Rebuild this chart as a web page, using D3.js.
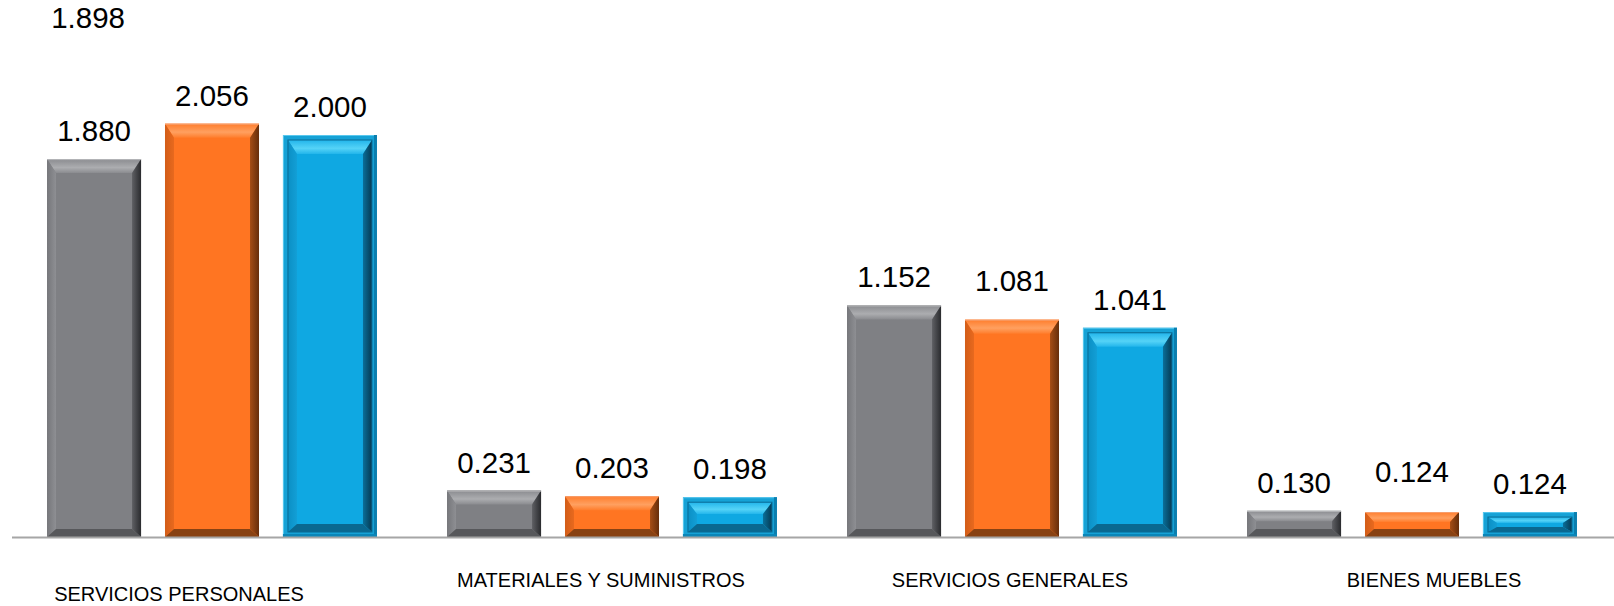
<!DOCTYPE html>
<html>
<head>
<meta charset="utf-8">
<script src="https://cdn.jsdelivr.net/npm/d3@7"></script>
<style>
    body { margin: 0; background: #fff; }
    svg { display: block; }
    .value { font-family: "Liberation Sans", Arial, sans-serif; font-size: 29.5px; fill: #000; text-anchor: middle; }
    .cat { font-family: "Liberation Sans", Arial, sans-serif; font-size: 20px; fill: #000; text-anchor: middle; }
</style>
</head>
<body>
<script>
var categories = ['SERVICIOS PERSONALES', 'MATERIALES Y SUMINISTROS', 'SERVICIOS GENERALES', 'BIENES MUEBLES'];
var series = ['serie1', 'serie2', 'serie3'];
var serie1 = [1.880, 0.231, 1.152, 0.130];
var serie2 = [2.056, 0.203, 1.081, 0.124];
var serie3 = [2.000, 0.198, 1.041, 0.124];
var strayLabel = '1.898';

var width = 1614,
    height = 606,
    baseline = 537;

var svg = d3.select('body')
    .append('svg')
    .attr('width', width)
    .attr('height', height);

var x0 = d3.scaleBand()
    .domain(categories)
    .range([12, 1612]);

var x1 = d3.scaleBand()
    .domain(series)
    .range([0, x0.bandwidth()])
    .paddingInner(0.203)
    .paddingOuter(0.297);

var y = d3.scaleLinear()
    .domain([0, 2.5])
    .range([baseline, baseline - 2.5 * 201]);

// colours for each bevel face: face, top (outer, inner), left, right (inner, outer), bottom
var palette = {
    serie1: {face: '#7f8084', top0: '#8a8b8f', top1: '#acadb0', left0: '#8e8f93', left1: '#76777b', right0: '#5f6064', right1: '#2a2b2e', bottom: '#57585b', rim: '#b8b9bb'},
    serie2: {face: '#ff7522', top0: '#ff7d2c', top1: '#ffa060', left0: '#e8691e', left1: '#d25d18', right0: '#a54d15', right1: '#662e0b', bottom: '#884213', rim: '#f7a070'},
    serie3: {face: '#0fa8e2', top0: '#22b5eb', top1: '#55d3f7', left0: '#139fd6', left1: '#0b8fc4', right0: '#0a6f99', right1: '#053a53', bottom: '#0a6890', rim: '#59c8ee'}
};

var defs = svg.append('defs');
series.forEach(function(s) {
    var c = palette[s];
    var gt = defs.append('linearGradient').attr('id', 'top-' + s)
        .attr('x1', 0).attr('y1', 0).attr('x2', 0).attr('y2', 1);
    gt.append('stop').attr('offset', '0%').attr('stop-color', c.top0);
    gt.append('stop').attr('offset', '60%').attr('stop-color', c.top1);
    gt.append('stop').attr('offset', '100%').attr('stop-color', c.top0);
    var gl = defs.append('linearGradient').attr('id', 'left-' + s)
        .attr('x1', 0).attr('y1', 0).attr('x2', 1).attr('y2', 0);
    gl.append('stop').attr('offset', '0%').attr('stop-color', c.left1);
    gl.append('stop').attr('offset', '100%').attr('stop-color', c.left0);
    var gr = defs.append('linearGradient').attr('id', 'right-' + s)
        .attr('x1', 0).attr('y1', 0).attr('x2', 1).attr('y2', 0);
    gr.append('stop').attr('offset', '0%').attr('stop-color', c.right0);
    gr.append('stop').attr('offset', '100%').attr('stop-color', c.right1);
});

var rows = categories.map(function(cat, i) {
    return {cat: cat, values: [serie1[i], serie2[i], serie3[i]].map(function(v, j) {
        return {cat: cat, key: series[j], value: v, ci: i};
    })};
});

// a few data labels were dragged up by hand in the original
var labelLift = {'serie2-2': 11, 'serie2-3': 12};
var catNudge = [[-33, 64], [-11, 50], [-2, 50], [22, 50]];

function pts(a) {
    return a.map(function(p) { return p.join(','); }).join(' ');
}

function bevelBar(g, x, yy, w, h, s, c) {
    var t = Math.min(14, h * 0.4),
        b = Math.min(8, h * 0.33),
        sd = Math.min(9, w / 2);
    g.append('rect').attr('x', x).attr('y', yy).attr('width', w).attr('height', h).attr('fill', c.face);
    g.append('polygon').attr('points', pts([[x, yy], [x + w, yy], [x + w - sd, yy + t], [x + sd, yy + t]]))
        .attr('fill', 'url(#top-' + s + ')');
    g.append('polygon').attr('points', pts([[x, yy], [x + sd, yy + t], [x + sd, yy + h - b], [x, yy + h]]))
        .attr('fill', 'url(#left-' + s + ')');
    g.append('polygon').attr('points', pts([[x + w, yy], [x + w, yy + h], [x + w - sd, yy + h - b], [x + w - sd, yy + t]]))
        .attr('fill', 'url(#right-' + s + ')');
    g.append('polygon').attr('points', pts([[x, yy + h], [x + sd, yy + h - b], [x + w - sd, yy + h - b], [x + w, yy + h]]))
        .attr('fill', c.bottom);
}

var groups = svg.append('g')
    .attr('class', 'bars')
    .selectAll('g')
    .data(rows).enter()
    .append('g')
    .attr('transform', d => 'translate(' + x0(d.cat) + ',0)');

groups.selectAll('g.bar')
    .data(d => d.values).enter()
    .append('g')
    .attr('class', 'bar')
    .each(function(d) {
        var g = d3.select(this),
            c = palette[d.key],
            bx = x1(d.key),
            bw = x1.bandwidth(),
            by = y(d.value),
            bh = y(0) - y(d.value);
        if (d.key === 'serie3') {
            // blue bars carry an extra outer frame
            var inset = 5;
            g.append('rect').attr('x', bx).attr('y', by).attr('width', bw).attr('height', bh).attr('fill', '#16a2d6');
            g.append('rect').attr('x', bx + 0.5).attr('y', by + 0.5).attr('width', bw - 1).attr('height', bh - 1)
                .attr('fill', 'none').attr('stroke', c.rim).attr('stroke-width', 1);
            g.append('rect').attr('x', bw + bx - 3).attr('y', by).attr('width', 3).attr('height', bh).attr('fill', '#0b7eae');
            g.append('rect').attr('x', bx).attr('y', by + bh - 3).attr('width', bw).attr('height', 3).attr('fill', '#0b86b8');
            var ih = Math.max(bh - 2 * inset, 2);
            bevelBar(g, bx + inset, by + inset, bw - 2 * inset, ih, d.key, c);
            g.append('rect').attr('x', bx + inset).attr('y', by + inset).attr('width', bw - 2 * inset).attr('height', ih)
                .attr('fill', 'none').attr('stroke', '#0a6a94').attr('stroke-width', 1);
        } else {
            bevelBar(g, bx, by, bw, bh, d.key, c);
            g.append('line').attr('x1', bx).attr('x2', bx + bw).attr('y1', by + 0.5).attr('y2', by + 0.5)
                .attr('stroke', c.rim).attr('stroke-width', 1);
        }
    });

groups.selectAll('text.value')
    .data(d => d.values).enter()
    .append('text')
    .attr('class', 'value')
    .attr('x', d => x1(d.key) + x1.bandwidth() / 2)
    .attr('y', d => y(d.value) - 18 - (labelLift[d.key + '-' + d.ci] || 0))
    .text(d => d3.format('.3f')(d.value));

// baseline
svg.append('line')
    .attr('x1', 12).attr('x2', width)
    .attr('y1', baseline + 0.5).attr('y2', baseline + 0.5)
    .attr('stroke', '#a6a6a6')
    .attr('stroke-width', 2);

// category labels
svg.append('g')
    .selectAll('text')
    .data(categories).enter()
    .append('text')
    .attr('class', 'cat')
    .attr('x', (d, i) => x0(d) + x0.bandwidth() / 2 + catNudge[i][0])
    .attr('y', (d, i) => baseline + catNudge[i][1])
    .text(d => d);

// orphan label sitting above the first group
svg.append('text')
    .attr('class', 'value')
    .attr('x', x0(categories[0]) + x1(series[0]) + x1.bandwidth() / 2 - 6)
    .attr('y', 28)
    .text(strayLabel);
</script>
</body>
</html>
